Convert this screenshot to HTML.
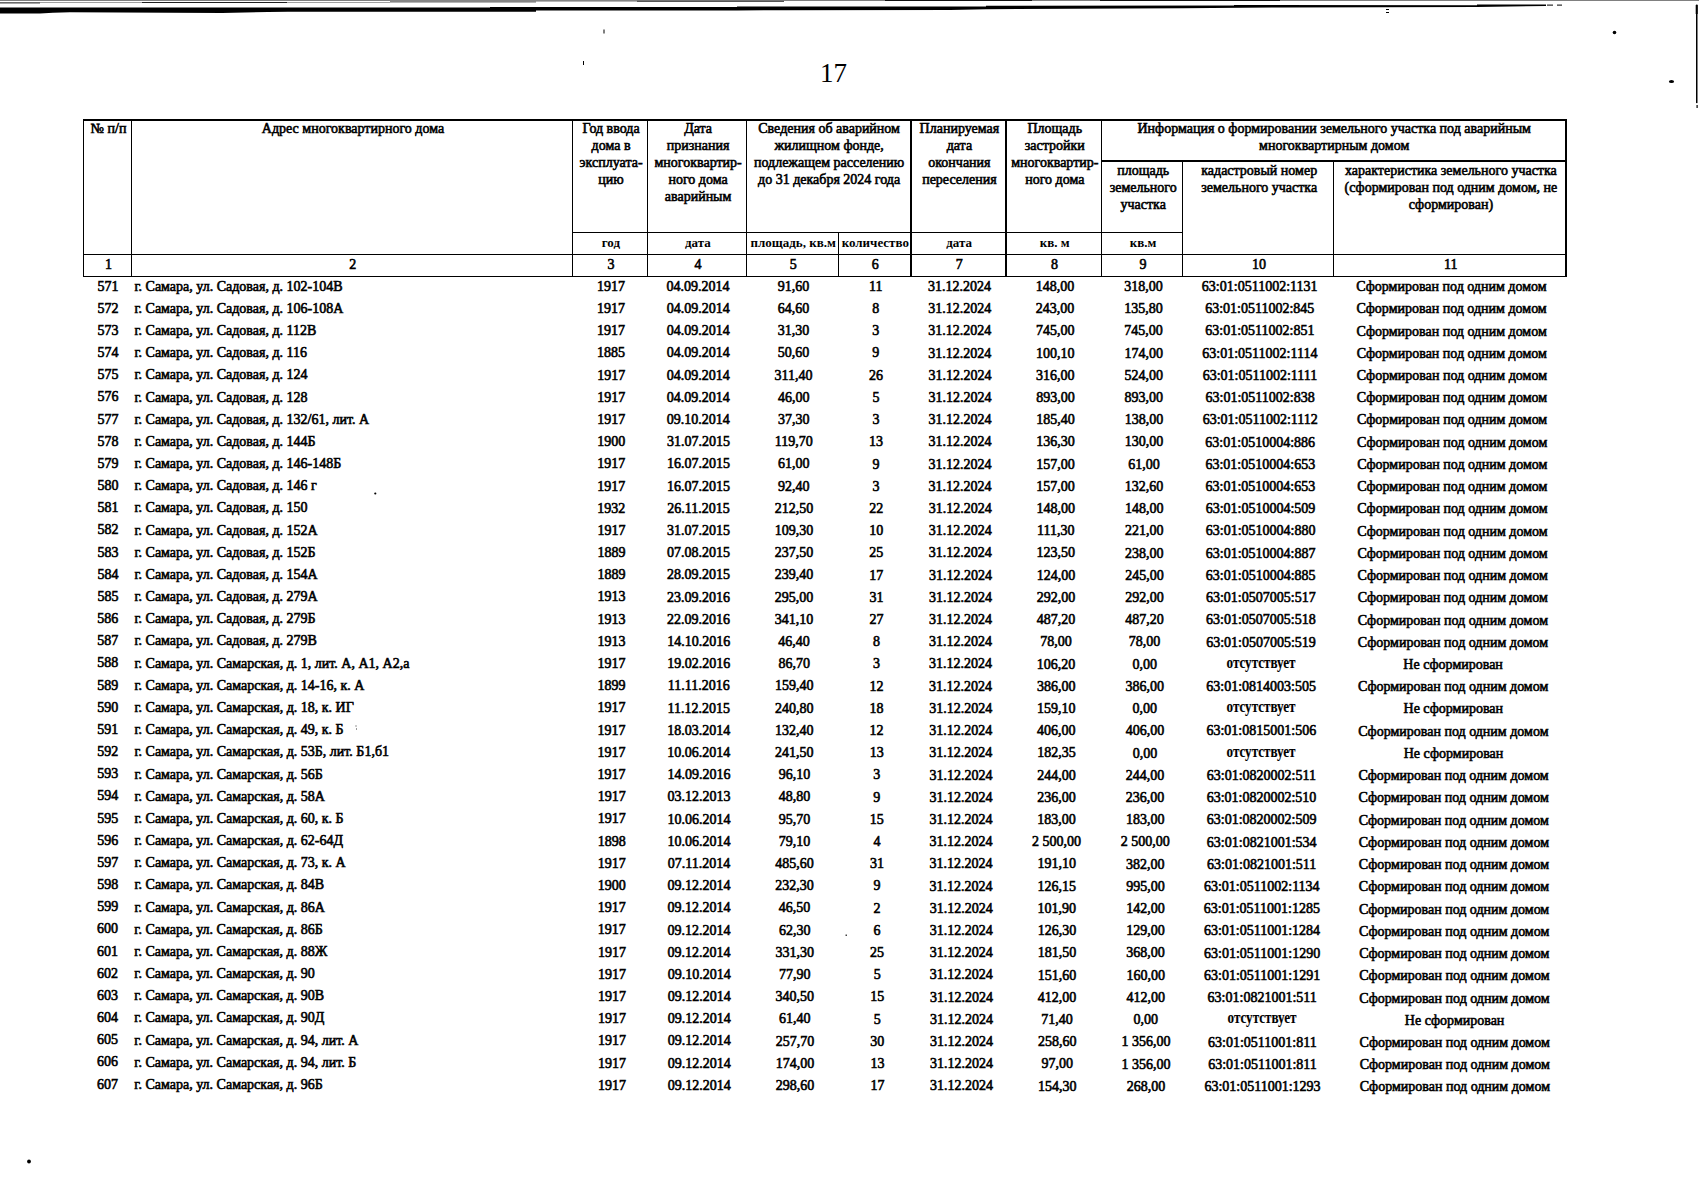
<!DOCTYPE html>
<html><head><meta charset="utf-8"><style>
html,body{margin:0;padding:0;background:#fff;}
body{width:1699px;height:1200px;position:relative;overflow:hidden;font-family:"Liberation Serif",serif;color:#000;}
.t{position:absolute;white-space:nowrap;line-height:1;}
.c{transform:translateX(-50%);text-align:center;}
.c.o{transform:translateX(-50%) scaleX(0.818);}
.d{font-size:14px;-webkit-text-stroke:0.6px #000;}
.h{font-size:14px;-webkit-text-stroke:0.6px #000;}
.u{font-size:13px;font-weight:bold;}
.n{font-size:14px;-webkit-text-stroke:0.6px #000;}
.l{position:absolute;background:#000;}
.o{font-size:16px;font-weight:bold;-webkit-text-stroke:0.15px #000;}
</style></head><body>

<div class="l" style="left:83.0px;top:118.5px;width:1484.3px;height:2px"></div>
<div class="l" style="left:83.0px;top:253.5px;width:1483.6px;height:1.3px"></div>
<div class="l" style="left:83.0px;top:275.5px;width:1483.6px;height:1.3px"></div>
<div class="l" style="left:572.0px;top:231.8px;width:611.3px;height:1.3px"></div>
<div class="l" style="left:1101.0px;top:160.3px;width:465.6px;height:1.3px"></div>
<div class="l" style="left:83.0px;top:118.5px;width:1.3px;height:158.3px"></div>
<div class="l" style="left:1565.3px;top:118.5px;width:1.3px;height:158.3px"></div>
<div class="l" style="left:130.8px;top:118.5px;width:1.3px;height:158.3px"></div>
<div class="l" style="left:572.0px;top:118.5px;width:1.3px;height:158.3px"></div>
<div class="l" style="left:647.0px;top:118.5px;width:1.3px;height:158.3px"></div>
<div class="l" style="left:746.0px;top:118.5px;width:1.3px;height:158.3px"></div>
<div class="l" style="left:910.3px;top:118.5px;width:1.3px;height:158.3px"></div>
<div class="l" style="left:1005.3px;top:118.5px;width:1.3px;height:158.3px"></div>
<div class="l" style="left:1101.0px;top:118.5px;width:1.3px;height:158.3px"></div>
<div class="l" style="left:837.5px;top:231.8px;width:1.3px;height:45.0px"></div>
<div class="l" style="left:1182.0px;top:160.3px;width:1.3px;height:116.5px"></div>
<div class="l" style="left:1333.2px;top:160.3px;width:1.3px;height:116.5px"></div>
<div class="t c h" style="left:108.6px;top:122.3px">№ п/п</div>
<div class="t c h" style="left:353.0px;top:122.3px">Адрес многоквартирного дома</div>
<div class="t c h" style="left:611.1px;top:122.3px">Год ввода</div>
<div class="t c h" style="left:611.1px;top:139.2px">дома в</div>
<div class="t c h" style="left:611.1px;top:156.2px">эксплуата-</div>
<div class="t c h" style="left:611.1px;top:173.1px">цию</div>
<div class="t c h" style="left:698.1px;top:122.3px">Дата</div>
<div class="t c h" style="left:698.1px;top:139.2px">признания</div>
<div class="t c h" style="left:698.1px;top:156.2px">многоквартир-</div>
<div class="t c h" style="left:698.1px;top:173.1px">ного дома</div>
<div class="t c h" style="left:698.1px;top:190.1px">аварийным</div>
<div class="t c h" style="left:829.1px;top:122.3px">Сведения об аварийном</div>
<div class="t c h" style="left:829.1px;top:139.2px">жилищном фонде,</div>
<div class="t c h" style="left:829.1px;top:156.2px">подлежащем расселению</div>
<div class="t c h" style="left:829.1px;top:173.1px">до 31 декабря 2024 года</div>
<div class="t c h" style="left:959.4px;top:122.3px">Планируемая</div>
<div class="t c h" style="left:959.4px;top:139.2px">дата</div>
<div class="t c h" style="left:959.4px;top:156.2px">окончания</div>
<div class="t c h" style="left:959.4px;top:173.1px">переселения</div>
<div class="t c h" style="left:1054.8px;top:122.3px">Площадь</div>
<div class="t c h" style="left:1054.8px;top:139.2px">застройки</div>
<div class="t c h" style="left:1054.8px;top:156.2px">многоквартир-</div>
<div class="t c h" style="left:1054.8px;top:173.1px">ного дома</div>
<div class="t c h" style="left:1334.2px;top:122.3px">Информация о формировании земельного участка под аварийным</div>
<div class="t c h" style="left:1334.2px;top:139.2px">многоквартирным домом</div>
<div class="t c h" style="left:1143.2px;top:163.7px">площадь</div>
<div class="t c h" style="left:1143.2px;top:180.6px">земельного</div>
<div class="t c h" style="left:1143.2px;top:197.6px">участка</div>
<div class="t c h" style="left:1259.2px;top:163.7px">кадастровый номер</div>
<div class="t c h" style="left:1259.2px;top:180.6px">земельного участка</div>
<div class="t c h" style="left:1450.9px;top:163.7px">характеристика земельного участка</div>
<div class="t c h" style="left:1450.9px;top:180.6px">(сформирован под одним домом, не</div>
<div class="t c h" style="left:1450.9px;top:197.6px">сформирован)</div>
<div class="t c u" style="left:610.9px;top:235.8px">год</div>
<div class="t c u" style="left:697.9px;top:235.8px">дата</div>
<div class="t c u" style="left:793.2px;top:235.8px">площадь, кв.м</div>
<div class="t c u" style="left:875.3px;top:235.8px">количество</div>
<div class="t c u" style="left:959.2px;top:235.8px">дата</div>
<div class="t c u" style="left:1054.6px;top:235.8px">кв. м</div>
<div class="t c u" style="left:1143.0px;top:235.8px">кв.м</div>
<div class="t c n" style="left:108.4px;top:257.7px">1</div>
<div class="t c n" style="left:352.8px;top:257.7px">2</div>
<div class="t c n" style="left:610.9px;top:257.7px">3</div>
<div class="t c n" style="left:697.9px;top:257.7px">4</div>
<div class="t c n" style="left:793.2px;top:257.7px">5</div>
<div class="t c n" style="left:875.3px;top:257.7px">6</div>
<div class="t c n" style="left:959.2px;top:257.7px">7</div>
<div class="t c n" style="left:1054.6px;top:257.7px">8</div>
<div class="t c n" style="left:1143.0px;top:257.7px">9</div>
<div class="t c n" style="left:1259.0px;top:257.7px">10</div>
<div class="t c n" style="left:1450.7px;top:257.7px">11</div>
<div class="t c d" style="left:108.1px;top:279.6px">571</div>
<div class="t d" style="left:134.4px;top:279.6px">г. Самара, ул. Садовая, д. 102-104В</div>
<div class="t c d" style="left:611.1px;top:279.7px">1917</div>
<div class="t c d" style="left:698.1px;top:279.8px">04.09.2014</div>
<div class="t c d" style="left:793.5px;top:279.8px">91,60</div>
<div class="t c d" style="left:875.7px;top:279.8px">11</div>
<div class="t c d" style="left:959.6px;top:279.9px">31.12.2024</div>
<div class="t c d" style="left:1055.1px;top:279.9px">148,00</div>
<div class="t c d" style="left:1143.5px;top:279.9px">318,00</div>
<div class="t c d" style="left:1259.7px;top:279.9px">63:01:0511002:1131</div>
<div class="t c d" style="left:1451.5px;top:280.0px">Сформирован под одним домом</div>
<div class="t c d" style="left:108.0px;top:301.8px">572</div>
<div class="t d" style="left:134.4px;top:301.8px">г. Самара, ул. Садовая, д. 106-108А</div>
<div class="t c d" style="left:611.1px;top:301.9px">1917</div>
<div class="t c d" style="left:698.2px;top:302.0px">04.09.2014</div>
<div class="t c d" style="left:793.5px;top:302.0px">64,60</div>
<div class="t c d" style="left:875.7px;top:302.0px">8</div>
<div class="t c d" style="left:959.7px;top:302.1px">31.12.2024</div>
<div class="t c d" style="left:1055.1px;top:302.1px">243,00</div>
<div class="t c d" style="left:1143.6px;top:302.1px">135,80</div>
<div class="t c d" style="left:1259.8px;top:302.2px">63:01:0511002:845</div>
<div class="t c d" style="left:1451.6px;top:302.2px">Сформирован под одним домом</div>
<div class="t c d" style="left:108.0px;top:323.9px">573</div>
<div class="t d" style="left:134.4px;top:324.0px">г. Самара, ул. Садовая, д. 112В</div>
<div class="t c d" style="left:611.1px;top:324.1px">1917</div>
<div class="t c d" style="left:698.2px;top:324.2px">04.09.2014</div>
<div class="t c d" style="left:793.5px;top:324.2px">31,30</div>
<div class="t c d" style="left:875.8px;top:324.2px">3</div>
<div class="t c d" style="left:959.8px;top:324.3px">31.12.2024</div>
<div class="t c d" style="left:1055.2px;top:324.3px">745,00</div>
<div class="t c d" style="left:1143.6px;top:324.3px">745,00</div>
<div class="t c d" style="left:1259.9px;top:324.4px">63:01:0511002:851</div>
<div class="t c d" style="left:1451.7px;top:324.5px">Сформирован под одним домом</div>
<div class="t c d" style="left:108.0px;top:346.1px">574</div>
<div class="t d" style="left:134.4px;top:346.2px">г. Самара, ул. Садовая, д. 116</div>
<div class="t c d" style="left:611.1px;top:346.3px">1885</div>
<div class="t c d" style="left:698.2px;top:346.4px">04.09.2014</div>
<div class="t c d" style="left:793.6px;top:346.4px">50,60</div>
<div class="t c d" style="left:875.8px;top:346.4px">9</div>
<div class="t c d" style="left:959.8px;top:346.5px">31.12.2024</div>
<div class="t c d" style="left:1055.3px;top:346.5px">100,10</div>
<div class="t c d" style="left:1143.7px;top:346.6px">174,00</div>
<div class="t c d" style="left:1259.9px;top:346.6px">63:01:0511002:1114</div>
<div class="t c d" style="left:1451.8px;top:346.7px">Сформирован под одним домом</div>
<div class="t c d" style="left:108.0px;top:368.3px">575</div>
<div class="t d" style="left:134.4px;top:368.3px">г. Самара, ул. Садовая, д. 124</div>
<div class="t c d" style="left:611.2px;top:368.5px">1917</div>
<div class="t c d" style="left:698.3px;top:368.6px">04.09.2014</div>
<div class="t c d" style="left:793.6px;top:368.6px">311,40</div>
<div class="t c d" style="left:875.9px;top:368.6px">26</div>
<div class="t c d" style="left:959.9px;top:368.7px">31.12.2024</div>
<div class="t c d" style="left:1055.3px;top:368.7px">316,00</div>
<div class="t c d" style="left:1143.8px;top:368.8px">524,00</div>
<div class="t c d" style="left:1260.0px;top:368.8px">63:01:0511002:1111</div>
<div class="t c d" style="left:1451.9px;top:368.9px">Сформирован под одним домом</div>
<div class="t c d" style="left:108.0px;top:390.4px">576</div>
<div class="t d" style="left:134.4px;top:390.5px">г. Самара, ул. Садовая, д. 128</div>
<div class="t c d" style="left:611.2px;top:390.7px">1917</div>
<div class="t c d" style="left:698.3px;top:390.8px">04.09.2014</div>
<div class="t c d" style="left:793.7px;top:390.8px">46,00</div>
<div class="t c d" style="left:875.9px;top:390.9px">5</div>
<div class="t c d" style="left:959.9px;top:390.9px">31.12.2024</div>
<div class="t c d" style="left:1055.4px;top:391.0px">893,00</div>
<div class="t c d" style="left:1143.8px;top:391.0px">893,00</div>
<div class="t c d" style="left:1260.1px;top:391.1px">63:01:0511002:838</div>
<div class="t c d" style="left:1452.0px;top:391.2px">Сформирован под одним домом</div>
<div class="t c d" style="left:108.0px;top:412.6px">577</div>
<div class="t d" style="left:134.4px;top:412.7px">г. Самара, ул. Садовая, д. 132/61, лит. А</div>
<div class="t c d" style="left:611.2px;top:412.9px">1917</div>
<div class="t c d" style="left:698.3px;top:413.0px">09.10.2014</div>
<div class="t c d" style="left:793.7px;top:413.0px">37,30</div>
<div class="t c d" style="left:876.0px;top:413.1px">3</div>
<div class="t c d" style="left:960.0px;top:413.1px">31.12.2024</div>
<div class="t c d" style="left:1055.5px;top:413.2px">185,40</div>
<div class="t c d" style="left:1143.9px;top:413.2px">138,00</div>
<div class="t c d" style="left:1260.2px;top:413.3px">63:01:0511002:1112</div>
<div class="t c d" style="left:1452.1px;top:413.4px">Сформирован под одним домом</div>
<div class="t c d" style="left:108.0px;top:434.8px">578</div>
<div class="t d" style="left:134.4px;top:434.9px">г. Самара, ул. Садовая, д. 144Б</div>
<div class="t c d" style="left:611.2px;top:435.1px">1900</div>
<div class="t c d" style="left:698.4px;top:435.1px">31.07.2015</div>
<div class="t c d" style="left:793.8px;top:435.2px">119,70</div>
<div class="t c d" style="left:876.0px;top:435.3px">13</div>
<div class="t c d" style="left:960.0px;top:435.3px">31.12.2024</div>
<div class="t c d" style="left:1055.5px;top:435.4px">136,30</div>
<div class="t c d" style="left:1144.0px;top:435.4px">130,00</div>
<div class="t c d" style="left:1260.2px;top:435.5px">63:01:0510004:886</div>
<div class="t c d" style="left:1452.2px;top:435.6px">Сформирован под одним домом</div>
<div class="t c d" style="left:107.9px;top:456.9px">579</div>
<div class="t d" style="left:134.4px;top:457.0px">г. Самара, ул. Садовая, д. 146-148Б</div>
<div class="t c d" style="left:611.3px;top:457.3px">1917</div>
<div class="t c d" style="left:698.4px;top:457.3px">16.07.2015</div>
<div class="t c d" style="left:793.8px;top:457.4px">61,00</div>
<div class="t c d" style="left:876.1px;top:457.5px">9</div>
<div class="t c d" style="left:960.1px;top:457.5px">31.12.2024</div>
<div class="t c d" style="left:1055.6px;top:457.6px">157,00</div>
<div class="t c d" style="left:1144.1px;top:457.7px">61,00</div>
<div class="t c d" style="left:1260.3px;top:457.7px">63:01:0510004:653</div>
<div class="t c d" style="left:1452.3px;top:457.9px">Сформирован под одним домом</div>
<div class="t c d" style="left:107.9px;top:479.1px">580</div>
<div class="t d" style="left:134.4px;top:479.2px">г. Самара, ул. Садовая, д. 146 г</div>
<div class="t c d" style="left:611.3px;top:479.5px">1917</div>
<div class="t c d" style="left:698.4px;top:479.5px">16.07.2015</div>
<div class="t c d" style="left:793.8px;top:479.6px">92,40</div>
<div class="t c d" style="left:876.1px;top:479.7px">3</div>
<div class="t c d" style="left:960.1px;top:479.7px">31.12.2024</div>
<div class="t c d" style="left:1055.6px;top:479.8px">157,00</div>
<div class="t c d" style="left:1144.1px;top:479.9px">132,60</div>
<div class="t c d" style="left:1260.4px;top:480.0px">63:01:0510004:653</div>
<div class="t c d" style="left:1452.3px;top:480.1px">Сформирован под одним домом</div>
<div class="t c d" style="left:107.9px;top:501.3px">581</div>
<div class="t d" style="left:134.4px;top:501.4px">г. Самара, ул. Садовая, д. 150</div>
<div class="t c d" style="left:611.3px;top:501.7px">1932</div>
<div class="t c d" style="left:698.5px;top:501.7px">26.11.2015</div>
<div class="t c d" style="left:793.9px;top:501.8px">212,50</div>
<div class="t c d" style="left:876.2px;top:501.9px">22</div>
<div class="t c d" style="left:960.2px;top:501.9px">31.12.2024</div>
<div class="t c d" style="left:1055.7px;top:502.0px">148,00</div>
<div class="t c d" style="left:1144.2px;top:502.1px">148,00</div>
<div class="t c d" style="left:1260.5px;top:502.2px">63:01:0510004:509</div>
<div class="t c d" style="left:1452.4px;top:502.3px">Сформирован под одним домом</div>
<div class="t c d" style="left:107.9px;top:523.4px">582</div>
<div class="t d" style="left:134.4px;top:523.6px">г. Самара, ул. Садовая, д. 152А</div>
<div class="t c d" style="left:611.4px;top:523.9px">1917</div>
<div class="t c d" style="left:698.5px;top:523.9px">31.07.2015</div>
<div class="t c d" style="left:793.9px;top:524.0px">109,30</div>
<div class="t c d" style="left:876.2px;top:524.1px">10</div>
<div class="t c d" style="left:960.3px;top:524.2px">31.12.2024</div>
<div class="t c d" style="left:1055.8px;top:524.2px">111,30</div>
<div class="t c d" style="left:1144.3px;top:524.3px">221,00</div>
<div class="t c d" style="left:1260.6px;top:524.4px">63:01:0510004:880</div>
<div class="t c d" style="left:1452.5px;top:524.6px">Сформирован под одним домом</div>
<div class="t c d" style="left:107.9px;top:545.6px">583</div>
<div class="t d" style="left:134.4px;top:545.7px">г. Самара, ул. Садовая, д. 152Б</div>
<div class="t c d" style="left:611.4px;top:546.0px">1889</div>
<div class="t c d" style="left:698.5px;top:546.1px">07.08.2015</div>
<div class="t c d" style="left:794.0px;top:546.2px">237,50</div>
<div class="t c d" style="left:876.3px;top:546.3px">25</div>
<div class="t c d" style="left:960.3px;top:546.4px">31.12.2024</div>
<div class="t c d" style="left:1055.8px;top:546.4px">123,50</div>
<div class="t c d" style="left:1144.3px;top:546.5px">238,00</div>
<div class="t c d" style="left:1260.6px;top:546.6px">63:01:0510004:887</div>
<div class="t c d" style="left:1452.6px;top:546.8px">Сформирован под одним домом</div>
<div class="t c d" style="left:107.9px;top:567.8px">584</div>
<div class="t d" style="left:134.4px;top:567.9px">г. Самара, ул. Садовая, д. 154А</div>
<div class="t c d" style="left:611.4px;top:568.2px">1889</div>
<div class="t c d" style="left:698.6px;top:568.3px">28.09.2015</div>
<div class="t c d" style="left:794.0px;top:568.4px">239,40</div>
<div class="t c d" style="left:876.3px;top:568.5px">17</div>
<div class="t c d" style="left:960.4px;top:568.6px">31.12.2024</div>
<div class="t c d" style="left:1055.9px;top:568.7px">124,00</div>
<div class="t c d" style="left:1144.4px;top:568.7px">245,00</div>
<div class="t c d" style="left:1260.7px;top:568.9px">63:01:0510004:885</div>
<div class="t c d" style="left:1452.7px;top:569.0px">Сформирован под одним домом</div>
<div class="t c d" style="left:107.9px;top:589.9px">585</div>
<div class="t d" style="left:134.4px;top:590.1px">г. Самара, ул. Садовая, д. 279А</div>
<div class="t c d" style="left:611.4px;top:590.4px">1913</div>
<div class="t c d" style="left:698.6px;top:590.5px">23.09.2016</div>
<div class="t c d" style="left:794.0px;top:590.6px">295,00</div>
<div class="t c d" style="left:876.4px;top:590.7px">31</div>
<div class="t c d" style="left:960.4px;top:590.8px">31.12.2024</div>
<div class="t c d" style="left:1056.0px;top:590.9px">292,00</div>
<div class="t c d" style="left:1144.5px;top:591.0px">292,00</div>
<div class="t c d" style="left:1260.8px;top:591.1px">63:01:0507005:517</div>
<div class="t c d" style="left:1452.8px;top:591.3px">Сформирован под одним домом</div>
<div class="t c d" style="left:107.8px;top:612.1px">586</div>
<div class="t d" style="left:134.4px;top:612.2px">г. Самара, ул. Садовая, д. 279Б</div>
<div class="t c d" style="left:611.5px;top:612.6px">1913</div>
<div class="t c d" style="left:698.6px;top:612.7px">22.09.2016</div>
<div class="t c d" style="left:794.1px;top:612.8px">341,10</div>
<div class="t c d" style="left:876.4px;top:612.9px">27</div>
<div class="t c d" style="left:960.5px;top:613.0px">31.12.2024</div>
<div class="t c d" style="left:1056.0px;top:613.1px">487,20</div>
<div class="t c d" style="left:1144.5px;top:613.2px">487,20</div>
<div class="t c d" style="left:1260.9px;top:613.3px">63:01:0507005:518</div>
<div class="t c d" style="left:1452.9px;top:613.5px">Сформирован под одним домом</div>
<div class="t c d" style="left:107.8px;top:634.3px">587</div>
<div class="t d" style="left:134.4px;top:634.4px">г. Самара, ул. Садовая, д. 279В</div>
<div class="t c d" style="left:611.5px;top:634.8px">1913</div>
<div class="t c d" style="left:698.7px;top:634.9px">14.10.2016</div>
<div class="t c d" style="left:794.1px;top:635.0px">46,40</div>
<div class="t c d" style="left:876.4px;top:635.1px">8</div>
<div class="t c d" style="left:960.5px;top:635.2px">31.12.2024</div>
<div class="t c d" style="left:1056.1px;top:635.3px">78,00</div>
<div class="t c d" style="left:1144.6px;top:635.4px">78,00</div>
<div class="t c d" style="left:1261.0px;top:635.5px">63:01:0507005:519</div>
<div class="t c d" style="left:1453.0px;top:635.7px">Сформирован под одним домом</div>
<div class="t c d" style="left:107.8px;top:656.4px">588</div>
<div class="t d" style="left:134.4px;top:656.6px">г. Самара, ул. Самарская, д. 1, лит. А, А1, А2,а</div>
<div class="t c d" style="left:611.5px;top:657.0px">1917</div>
<div class="t c d" style="left:698.7px;top:657.1px">19.02.2016</div>
<div class="t c d" style="left:794.2px;top:657.2px">86,70</div>
<div class="t c d" style="left:876.5px;top:657.3px">3</div>
<div class="t c d" style="left:960.6px;top:657.4px">31.12.2024</div>
<div class="t c d" style="left:1056.1px;top:657.5px">106,20</div>
<div class="t c d" style="left:1144.7px;top:657.6px">0,00</div>
<div class="t c o" style="left:1261.0px;top:654.8px">отсутствует</div>
<div class="t c d" style="left:1453.1px;top:658.0px">Не сформирован</div>
<div class="t c d" style="left:107.8px;top:678.6px">589</div>
<div class="t d" style="left:134.4px;top:678.8px">г. Самара, ул. Самарская, д. 14-16, к. А</div>
<div class="t c d" style="left:611.5px;top:679.2px">1899</div>
<div class="t c d" style="left:698.7px;top:679.3px">11.11.2016</div>
<div class="t c d" style="left:794.2px;top:679.4px">159,40</div>
<div class="t c d" style="left:876.5px;top:679.5px">12</div>
<div class="t c d" style="left:960.6px;top:679.6px">31.12.2024</div>
<div class="t c d" style="left:1056.2px;top:679.7px">386,00</div>
<div class="t c d" style="left:1144.8px;top:679.8px">386,00</div>
<div class="t c d" style="left:1261.1px;top:680.0px">63:01:0814003:505</div>
<div class="t c d" style="left:1453.2px;top:680.2px">Сформирован под одним домом</div>
<div class="t c d" style="left:107.8px;top:700.8px">590</div>
<div class="t d" style="left:134.4px;top:700.9px">г. Самара, ул. Самарская, д. 18, к. ИГ</div>
<div class="t c d" style="left:611.6px;top:701.4px">1917</div>
<div class="t c d" style="left:698.8px;top:701.5px">11.12.2015</div>
<div class="t c d" style="left:794.2px;top:701.6px">240,80</div>
<div class="t c d" style="left:876.6px;top:701.7px">18</div>
<div class="t c d" style="left:960.7px;top:701.8px">31.12.2024</div>
<div class="t c d" style="left:1056.3px;top:701.9px">159,10</div>
<div class="t c d" style="left:1144.8px;top:702.1px">0,00</div>
<div class="t c o" style="left:1261.2px;top:699.3px">отсутствует</div>
<div class="t c d" style="left:1453.3px;top:702.4px">Не сформирован</div>
<div class="t c d" style="left:107.8px;top:722.9px">591</div>
<div class="t d" style="left:134.4px;top:723.1px">г. Самара, ул. Самарская, д. 49, к. Б</div>
<div class="t c d" style="left:611.6px;top:723.6px">1917</div>
<div class="t c d" style="left:698.8px;top:723.7px">18.03.2014</div>
<div class="t c d" style="left:794.3px;top:723.8px">132,40</div>
<div class="t c d" style="left:876.6px;top:723.9px">12</div>
<div class="t c d" style="left:960.7px;top:724.0px">31.12.2024</div>
<div class="t c d" style="left:1056.3px;top:724.2px">406,00</div>
<div class="t c d" style="left:1144.9px;top:724.3px">406,00</div>
<div class="t c d" style="left:1261.3px;top:724.4px">63:01:0815001:506</div>
<div class="t c d" style="left:1453.4px;top:724.7px">Сформирован под одним домом</div>
<div class="t c d" style="left:107.8px;top:745.1px">592</div>
<div class="t d" style="left:134.4px;top:745.3px">г. Самара, ул. Самарская, д. 53Б, лит. Б1,б1</div>
<div class="t c d" style="left:611.6px;top:745.8px">1917</div>
<div class="t c d" style="left:698.8px;top:745.9px">10.06.2014</div>
<div class="t c d" style="left:794.3px;top:746.0px">241,50</div>
<div class="t c d" style="left:876.7px;top:746.1px">13</div>
<div class="t c d" style="left:960.8px;top:746.2px">31.12.2024</div>
<div class="t c d" style="left:1056.4px;top:746.4px">182,35</div>
<div class="t c d" style="left:1145.0px;top:746.5px">0,00</div>
<div class="t c o" style="left:1261.4px;top:743.7px">отсутствует</div>
<div class="t c d" style="left:1453.5px;top:746.9px">Не сформирован</div>
<div class="t c d" style="left:107.7px;top:767.3px">593</div>
<div class="t d" style="left:134.4px;top:767.5px">г. Самара, ул. Самарская, д. 56Б</div>
<div class="t c d" style="left:611.6px;top:768.0px">1917</div>
<div class="t c d" style="left:698.9px;top:768.1px">14.09.2016</div>
<div class="t c d" style="left:794.4px;top:768.2px">96,10</div>
<div class="t c d" style="left:876.7px;top:768.3px">3</div>
<div class="t c d" style="left:960.9px;top:768.5px">31.12.2024</div>
<div class="t c d" style="left:1056.5px;top:768.6px">244,00</div>
<div class="t c d" style="left:1145.0px;top:768.7px">244,00</div>
<div class="t c d" style="left:1261.4px;top:768.9px">63:01:0820002:511</div>
<div class="t c d" style="left:1453.6px;top:769.1px">Сформирован под одним домом</div>
<div class="t c d" style="left:107.7px;top:789.4px">594</div>
<div class="t d" style="left:134.4px;top:789.6px">г. Самара, ул. Самарская, д. 58А</div>
<div class="t c d" style="left:611.7px;top:790.2px">1917</div>
<div class="t c d" style="left:698.9px;top:790.3px">03.12.2013</div>
<div class="t c d" style="left:794.4px;top:790.4px">48,80</div>
<div class="t c d" style="left:876.8px;top:790.5px">9</div>
<div class="t c d" style="left:960.9px;top:790.7px">31.12.2024</div>
<div class="t c d" style="left:1056.5px;top:790.8px">236,00</div>
<div class="t c d" style="left:1145.1px;top:790.9px">236,00</div>
<div class="t c d" style="left:1261.5px;top:791.1px">63:01:0820002:510</div>
<div class="t c d" style="left:1453.7px;top:791.4px">Сформирован под одним домом</div>
<div class="t c d" style="left:107.7px;top:811.6px">595</div>
<div class="t d" style="left:134.4px;top:811.8px">г. Самара, ул. Самарская, д. 60, к. Б</div>
<div class="t c d" style="left:611.7px;top:812.3px">1917</div>
<div class="t c d" style="left:698.9px;top:812.5px">10.06.2014</div>
<div class="t c d" style="left:794.5px;top:812.6px">95,70</div>
<div class="t c d" style="left:876.8px;top:812.7px">15</div>
<div class="t c d" style="left:961.0px;top:812.9px">31.12.2024</div>
<div class="t c d" style="left:1056.6px;top:813.0px">183,00</div>
<div class="t c d" style="left:1145.2px;top:813.1px">183,00</div>
<div class="t c d" style="left:1261.6px;top:813.3px">63:01:0820002:509</div>
<div class="t c d" style="left:1453.8px;top:813.6px">Сформирован под одним домом</div>
<div class="t c d" style="left:107.7px;top:833.8px">596</div>
<div class="t d" style="left:134.4px;top:834.0px">г. Самара, ул. Самарская, д. 62-64Д</div>
<div class="t c d" style="left:611.7px;top:834.5px">1898</div>
<div class="t c d" style="left:699.0px;top:834.7px">10.06.2014</div>
<div class="t c d" style="left:794.5px;top:834.8px">79,10</div>
<div class="t c d" style="left:876.9px;top:834.9px">4</div>
<div class="t c d" style="left:961.0px;top:835.1px">31.12.2024</div>
<div class="t c d" style="left:1056.6px;top:835.2px">2 500,00</div>
<div class="t c d" style="left:1145.2px;top:835.4px">2 500,00</div>
<div class="t c d" style="left:1261.7px;top:835.5px">63:01:0821001:534</div>
<div class="t c d" style="left:1453.9px;top:835.8px">Сформирован под одним домом</div>
<div class="t c d" style="left:107.7px;top:855.9px">597</div>
<div class="t d" style="left:134.4px;top:856.2px">г. Самара, ул. Самарская, д. 73, к. А</div>
<div class="t c d" style="left:611.8px;top:856.7px">1917</div>
<div class="t c d" style="left:699.0px;top:856.9px">07.11.2014</div>
<div class="t c d" style="left:794.5px;top:857.0px">485,60</div>
<div class="t c d" style="left:876.9px;top:857.2px">31</div>
<div class="t c d" style="left:961.1px;top:857.3px">31.12.2024</div>
<div class="t c d" style="left:1056.7px;top:857.4px">191,10</div>
<div class="t c d" style="left:1145.3px;top:857.6px">382,00</div>
<div class="t c d" style="left:1261.7px;top:857.8px">63:01:0821001:511</div>
<div class="t c d" style="left:1454.0px;top:858.1px">Сформирован под одним домом</div>
<div class="t c d" style="left:107.7px;top:878.1px">598</div>
<div class="t d" style="left:134.4px;top:878.3px">г. Самара, ул. Самарская, д. 84В</div>
<div class="t c d" style="left:611.8px;top:878.9px">1900</div>
<div class="t c d" style="left:699.0px;top:879.1px">09.12.2014</div>
<div class="t c d" style="left:794.6px;top:879.2px">232,30</div>
<div class="t c d" style="left:877.0px;top:879.4px">9</div>
<div class="t c d" style="left:961.1px;top:879.5px">31.12.2024</div>
<div class="t c d" style="left:1056.8px;top:879.7px">126,15</div>
<div class="t c d" style="left:1145.4px;top:879.8px">995,00</div>
<div class="t c d" style="left:1261.8px;top:880.0px">63:01:0511002:1134</div>
<div class="t c d" style="left:1454.0px;top:880.3px">Сформирован под одним домом</div>
<div class="t c d" style="left:107.7px;top:900.3px">599</div>
<div class="t d" style="left:134.4px;top:900.5px">г. Самара, ул. Самарская, д. 86А</div>
<div class="t c d" style="left:611.8px;top:901.1px">1917</div>
<div class="t c d" style="left:699.1px;top:901.3px">09.12.2014</div>
<div class="t c d" style="left:794.6px;top:901.4px">46,50</div>
<div class="t c d" style="left:877.0px;top:901.6px">2</div>
<div class="t c d" style="left:961.2px;top:901.7px">31.12.2024</div>
<div class="t c d" style="left:1056.8px;top:901.9px">101,90</div>
<div class="t c d" style="left:1145.4px;top:902.0px">142,00</div>
<div class="t c d" style="left:1261.9px;top:902.2px">63:01:0511001:1285</div>
<div class="t c d" style="left:1454.1px;top:902.5px">Сформирован под одним домом</div>
<div class="t c d" style="left:107.6px;top:922.4px">600</div>
<div class="t d" style="left:134.3px;top:922.7px">г. Самара, ул. Самарская, д. 86Б</div>
<div class="t c d" style="left:611.8px;top:923.3px">1917</div>
<div class="t c d" style="left:699.1px;top:923.5px">09.12.2014</div>
<div class="t c d" style="left:794.7px;top:923.6px">62,30</div>
<div class="t c d" style="left:877.1px;top:923.8px">6</div>
<div class="t c d" style="left:961.2px;top:923.9px">31.12.2024</div>
<div class="t c d" style="left:1056.9px;top:924.1px">126,30</div>
<div class="t c d" style="left:1145.5px;top:924.2px">129,00</div>
<div class="t c d" style="left:1262.0px;top:924.4px">63:01:0511001:1284</div>
<div class="t c d" style="left:1454.2px;top:924.8px">Сформирован под одним домом</div>
<div class="t c d" style="left:107.6px;top:944.6px">601</div>
<div class="t d" style="left:134.3px;top:944.9px">г. Самара, ул. Самарская, д. 88Ж</div>
<div class="t c d" style="left:611.9px;top:945.5px">1917</div>
<div class="t c d" style="left:699.1px;top:945.7px">09.12.2014</div>
<div class="t c d" style="left:794.7px;top:945.8px">331,30</div>
<div class="t c d" style="left:877.1px;top:946.0px">25</div>
<div class="t c d" style="left:961.3px;top:946.1px">31.12.2024</div>
<div class="t c d" style="left:1057.0px;top:946.3px">181,50</div>
<div class="t c d" style="left:1145.6px;top:946.4px">368,00</div>
<div class="t c d" style="left:1262.1px;top:946.7px">63:01:0511001:1290</div>
<div class="t c d" style="left:1454.3px;top:947.0px">Сформирован под одним домом</div>
<div class="t c d" style="left:107.6px;top:966.8px">602</div>
<div class="t d" style="left:134.3px;top:967.0px">г. Самара, ул. Самарская, д. 90</div>
<div class="t c d" style="left:611.9px;top:967.7px">1917</div>
<div class="t c d" style="left:699.2px;top:967.9px">09.10.2014</div>
<div class="t c d" style="left:794.7px;top:968.0px">77,90</div>
<div class="t c d" style="left:877.2px;top:968.2px">5</div>
<div class="t c d" style="left:961.3px;top:968.3px">31.12.2024</div>
<div class="t c d" style="left:1057.0px;top:968.5px">151,60</div>
<div class="t c d" style="left:1145.7px;top:968.7px">160,00</div>
<div class="t c d" style="left:1262.1px;top:968.9px">63:01:0511001:1291</div>
<div class="t c d" style="left:1454.4px;top:969.2px">Сформирован под одним домом</div>
<div class="t c d" style="left:107.6px;top:988.9px">603</div>
<div class="t d" style="left:134.3px;top:989.2px">г. Самара, ул. Самарская, д. 90В</div>
<div class="t c d" style="left:611.9px;top:989.9px">1917</div>
<div class="t c d" style="left:699.2px;top:990.0px">09.12.2014</div>
<div class="t c d" style="left:794.8px;top:990.2px">340,50</div>
<div class="t c d" style="left:877.2px;top:990.4px">15</div>
<div class="t c d" style="left:961.4px;top:990.5px">31.12.2024</div>
<div class="t c d" style="left:1057.1px;top:990.7px">412,00</div>
<div class="t c d" style="left:1145.7px;top:990.9px">412,00</div>
<div class="t c d" style="left:1262.2px;top:991.1px">63:01:0821001:511</div>
<div class="t c d" style="left:1454.5px;top:991.5px">Сформирован под одним домом</div>
<div class="t c d" style="left:107.6px;top:1011.1px">604</div>
<div class="t d" style="left:134.3px;top:1011.4px">г. Самара, ул. Самарская, д. 90Д</div>
<div class="t c d" style="left:611.9px;top:1012.1px">1917</div>
<div class="t c d" style="left:699.2px;top:1012.2px">09.12.2014</div>
<div class="t c d" style="left:794.8px;top:1012.4px">61,40</div>
<div class="t c d" style="left:877.3px;top:1012.6px">5</div>
<div class="t c d" style="left:961.5px;top:1012.7px">31.12.2024</div>
<div class="t c d" style="left:1057.1px;top:1012.9px">71,40</div>
<div class="t c d" style="left:1145.8px;top:1013.1px">0,00</div>
<div class="t c o" style="left:1262.3px;top:1010.4px">отсутствует</div>
<div class="t c d" style="left:1454.6px;top:1013.7px">Не сформирован</div>
<div class="t c d" style="left:107.6px;top:1033.3px">605</div>
<div class="t d" style="left:134.3px;top:1033.6px">г. Самара, ул. Самарская, д. 94, лит. А</div>
<div class="t c d" style="left:612.0px;top:1034.3px">1917</div>
<div class="t c d" style="left:699.3px;top:1034.4px">09.12.2014</div>
<div class="t c d" style="left:794.9px;top:1034.6px">257,70</div>
<div class="t c d" style="left:877.3px;top:1034.8px">30</div>
<div class="t c d" style="left:961.5px;top:1035.0px">31.12.2024</div>
<div class="t c d" style="left:1057.2px;top:1035.1px">258,60</div>
<div class="t c d" style="left:1145.9px;top:1035.3px">1 356,00</div>
<div class="t c d" style="left:1262.4px;top:1035.6px">63:01:0511001:811</div>
<div class="t c d" style="left:1454.7px;top:1035.9px">Сформирован под одним домом</div>
<div class="t c d" style="left:107.6px;top:1055.4px">606</div>
<div class="t d" style="left:134.3px;top:1055.7px">г. Самара, ул. Самарская, д. 94, лит. Б</div>
<div class="t c d" style="left:612.0px;top:1056.5px">1917</div>
<div class="t c d" style="left:699.3px;top:1056.6px">09.12.2014</div>
<div class="t c d" style="left:794.9px;top:1056.8px">174,00</div>
<div class="t c d" style="left:877.4px;top:1057.0px">13</div>
<div class="t c d" style="left:961.6px;top:1057.2px">31.12.2024</div>
<div class="t c d" style="left:1057.3px;top:1057.4px">97,00</div>
<div class="t c d" style="left:1145.9px;top:1057.5px">1 356,00</div>
<div class="t c d" style="left:1262.5px;top:1057.8px">63:01:0511001:811</div>
<div class="t c d" style="left:1454.8px;top:1058.2px">Сформирован под одним домом</div>
<div class="t c d" style="left:107.6px;top:1077.6px">607</div>
<div class="t d" style="left:134.3px;top:1077.9px">г. Самара, ул. Самарская, д. 96Б</div>
<div class="t c d" style="left:612.0px;top:1078.6px">1917</div>
<div class="t c d" style="left:699.3px;top:1078.8px">09.12.2014</div>
<div class="t c d" style="left:795.0px;top:1079.0px">298,60</div>
<div class="t c d" style="left:877.4px;top:1079.2px">17</div>
<div class="t c d" style="left:961.6px;top:1079.4px">31.12.2024</div>
<div class="t c d" style="left:1057.3px;top:1079.6px">154,30</div>
<div class="t c d" style="left:1146.0px;top:1079.8px">268,00</div>
<div class="t c d" style="left:1262.5px;top:1080.0px">63:01:0511001:1293</div>
<div class="t c d" style="left:1454.9px;top:1080.4px">Сформирован под одним домом</div>
<div class="t c pn" style="left:833.6px;top:59.7px">17</div>
<style>.pn{font-size:27px;}</style>
<svg width="1699" height="1200" style="position:absolute;left:0;top:0">
<rect x="0" y="0" width="1699" height="1" fill="#808080"/>
<rect x="390" y="0" width="146" height="2.6" fill="#858585"/>
<rect x="536" y="0" width="101" height="1.6" fill="#858585"/>
<rect x="637" y="0.9" width="147" height="0.8" fill="#111"/>
<rect x="885" y="0" width="147" height="1" fill="#111"/>
<rect x="1100" y="0" width="180" height="1" fill="#111"/>
<rect x="0" y="2" width="40" height="1.6" fill="#6a6a6a"/>
<rect x="40" y="2.1" width="350" height="0.8" fill="#8a8a8a"/>
<rect x="142" y="2" width="145" height="0.9" fill="#111"/>
<polygon points="0,7.6 490,7.6 490,6.9 737,6.9 737,6.4 986,6.4 986,5.8 1234,5.6 1234,5.0 1477,5.2 1477,4.4 1546,4.4 1546,6.0 1477,7.0 1281,7.4 1182,8.3 986,9.2 950,10 784,10.2 737,10.4 580,10.4 536,10.6 536,11.7 288,11.7 268,12 222,13 70,12.2 53,12.7 40,13.4 0,13.4" fill="#000"/>
<rect x="1547" y="4.6" width="6" height="1" fill="#000"/>
<rect x="1557" y="4.6" width="5" height="1" fill="#000"/>
<rect x="1696" y="4.6" width="1.5" height="98.5" fill="#000"/>
<rect x="1695.7" y="5" width="2" height="9" fill="#000"/>
<rect x="1696.5" y="105" width="1.2" height="3" fill="#000"/>
<circle cx="1614.5" cy="32.5" r="1.8" fill="#000"/>
<ellipse cx="1671.5" cy="81.5" rx="2.6" ry="1.5" fill="#000"/>
<circle cx="29" cy="1161.5" r="1.9" fill="#000"/>
<circle cx="375.3" cy="493.5" r="1.1" fill="#000"/>
<rect x="603.5" y="29.5" width="1" height="4" fill="#000"/>
<rect x="583" y="61" width="1" height="4" fill="#000"/>
<rect x="1386" y="9" width="3" height="1" fill="#000"/>
<rect x="1386" y="12" width="3" height="1" fill="#000"/>
<rect x="355.5" y="725.5" width="1" height="1" fill="#333"/>
<rect x="356" y="728.5" width="1" height="1" fill="#333"/>
<rect x="845.5" y="934.5" width="1.5" height="1.5" fill="#444"/>
</svg>

</body></html>
